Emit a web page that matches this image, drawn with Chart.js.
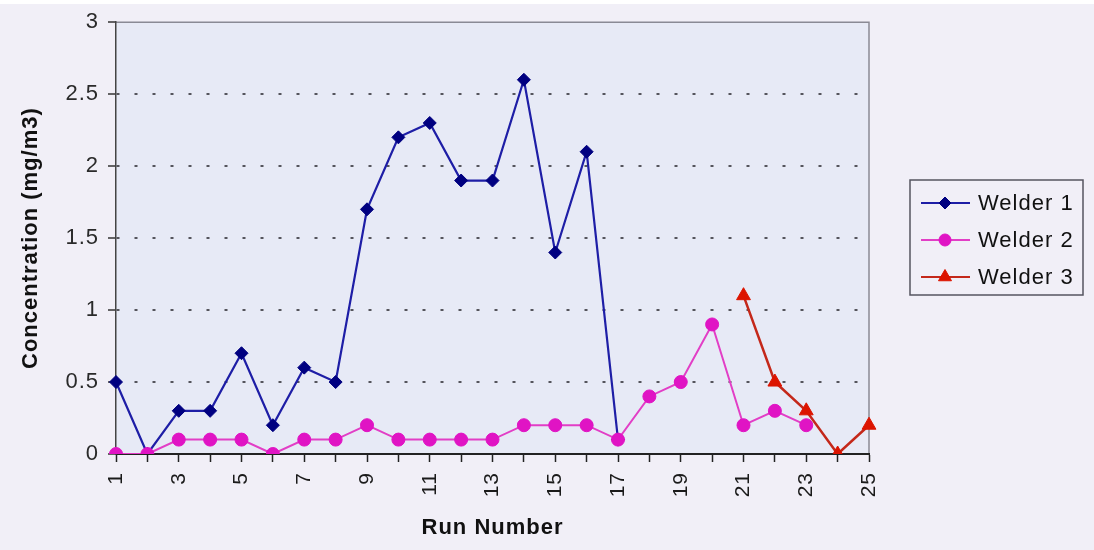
<!DOCTYPE html>
<html>
<head>
<meta charset="utf-8">
<title>Welder exposure by run</title>
<script src="https://cdn.jsdelivr.net/npm/chart.js@4.4.1/dist/chart.umd.min.js"></script>
<style>
  html, body { margin: 0; padding: 0; background: #f1eff7; }
  #wrap { width: 1094px; height: 550px; position: relative; }
  canvas { display: block; }
</style>
</head>
<body>
<div id="wrap"><canvas id="chart" width="1094" height="550"></canvas></div>
<script>
// Run numbers along the x axis
const runs = ['1','2','3','4','5','6','7','8','9','10','11','12','13','14','15','16','17','18','19','20','21','22','23','24','25'];

// Fume concentration (mg/m3) measured for each welder per run
const welder1 = [0.5, 0, 0.3, 0.3, 0.7, 0.2, 0.6, 0.5, 1.7, 2.2, 2.3, 1.9, 1.9, 2.6, 1.4, 2.1, 0.1, null, null, null, null, null, null, null, null];
const welder2 = [0, 0, 0.1, 0.1, 0.1, 0, 0.1, 0.1, 0.2, 0.1, 0.1, 0.1, 0.1, 0.2, 0.2, 0.2, 0.1, 0.4, 0.5, 0.9, 0.2, 0.3, 0.2, null, null];
const welder3 = [null, null, null, null, null, null, null, null, null, null, null, null, null, null, null, null, null, null, null, null, 1.1, 0.5, 0.3, 0, 0.2];

// Y axis ticks
const yTicks = [0, 0.5, 1, 1.5, 2, 2.5, 3];

const FONT = '"Liberation Sans", Arial, Helvetica, sans-serif';
const SPACING = '1px';

// Page background, plot panel and its top/right frame
const panelPlugin = {
  id: 'panel',
  beforeUpdate(chart) { chart.ctx.letterSpacing = SPACING; },
  beforeDraw(chart) {
    const ctx = chart.ctx;
    const a = chart.chartArea;
    ctx.save();
    ctx.fillStyle = '#f1eff7';
    ctx.fillRect(0, 0, chart.width, chart.height);
    ctx.fillStyle = '#ffffff';
    ctx.fillRect(0, 0, chart.width, 4);
    ctx.fillStyle = '#e7eaf6';
    ctx.fillRect(a.left, a.top, a.right - a.left, a.bottom - a.top);
    ctx.strokeStyle = '#8a8a95';
    ctx.lineWidth = 1.5;
    ctx.beginPath();
    ctx.moveTo(a.left, a.top);
    ctx.lineTo(a.right, a.top);
    ctx.lineTo(a.right, a.bottom);
    ctx.stroke();
    ctx.restore();
    ctx.letterSpacing = SPACING;
  }
};

// Boxed legend with line-and-marker keys
const keyPlugin = {
  id: 'keyBox',
  afterDraw(chart) {
    const ctx = chart.ctx;
    const box = { x: 910, y: 180, w: 173, h: 115 };
    ctx.save();
    ctx.strokeStyle = '#555560';
    ctx.lineWidth = 1.5;
    ctx.strokeRect(box.x, box.y, box.w, box.h);
    chart.data.datasets.forEach((ds, i) => {
      const y = box.y + 23 + i * 37;
      ctx.strokeStyle = ds.borderColor;
      ctx.lineWidth = 2;
      ctx.beginPath();
      ctx.moveTo(box.x + 11, y);
      ctx.lineTo(box.x + 60, y);
      ctx.stroke();
      ctx.fillStyle = ds.pointBackgroundColor;
      ctx.strokeStyle = ds.pointBorderColor;
      ctx.lineWidth = 1;
      Chart.helpers.drawPoint(ctx, { pointStyle: ds.pointStyle, radius: ds.pointRadius - 0.5, rotation: 0, borderWidth: 1 }, box.x + 35, y);
      ctx.fillStyle = '#111';
      ctx.font = '22px ' + FONT;
      ctx.letterSpacing = SPACING;
      ctx.textBaseline = 'middle';
      ctx.textAlign = 'left';
      ctx.fillText(ds.label, box.x + 68, y + 1);
    });
    ctx.restore();
  }
};

new Chart(document.getElementById('chart'), {
  type: 'line',
  data: {
    labels: runs,
    datasets: [
      {
        label: 'Welder 1', data: welder1, order: 2,
        borderColor: '#1e1ea6', borderWidth: 2.2,
        pointStyle: 'rectRot', pointRadius: 6.5,
        pointBackgroundColor: '#000080', pointBorderColor: '#000080', pointBorderWidth: 1
      },
      {
        label: 'Welder 2', data: welder2, order: 1,
        borderColor: '#e23ec6', borderWidth: 2,
        pointStyle: 'circle', pointRadius: 6.5,
        pointBackgroundColor: '#e014c4', pointBorderColor: '#e014c4', pointBorderWidth: 1
      },
      {
        label: 'Welder 3', data: welder3, order: 0,
        borderColor: '#c4281a', borderWidth: 2.5,
        pointStyle: 'triangle', pointRadius: 8,
        pointBackgroundColor: '#dc1400', pointBorderColor: '#dc1400', pointBorderWidth: 1
      }
    ]
  },
  options: {
    responsive: false,
    animation: false,
    spanGaps: false,
    layout: { padding: { top: 20, right: 225, left: 0, bottom: 0 } },
    plugins: {
      legend: { display: false },
      tooltip: { enabled: false }
    },
    elements: { line: { tension: 0 } },
    scales: {
      x: {
        type: 'category',
        offset: false,
        grid: { drawOnChartArea: false, drawTicks: true, tickLength: 8, tickColor: '#222', tickWidth: 1.5 },
        border: { color: '#222', width: 2 },
        ticks: {
          autoSkip: false, maxRotation: 90, minRotation: 90, padding: 10,
          color: '#1a1a1a', font: { family: FONT, size: 21 },
          callback: (v, i) => (i % 2 === 0 ? runs[i] : '')
        },
        title: {
          display: true, text: 'Run Number', color: '#111',
          font: { family: FONT, size: 22, weight: 'bold' }, padding: { top: 9, bottom: 9 }
        },
        afterFit: (s) => { s.height = 96; }
      },
      y: {
        min: 0, max: 3,
        afterBuildTicks: (s) => { s.ticks = yTicks.map(v => ({ value: v })); },
        grid: {
          color: (c) => (c.tick && (c.tick.value === 0 || c.tick.value === 3) ? 'rgba(0,0,0,0)' : '#55555c'),
          lineWidth: 2, tickLength: 8, tickColor: '#333', tickWidth: 1.5
        },
        border: { color: '#444', width: 1.5, dash: [3, 15] },
        ticks: {
          padding: 9, color: '#2a2a2a', font: { family: FONT, size: 22 },
          callback: (v) => String(v)
        },
        title: {
          display: true, text: 'Concentration (mg/m3)', color: '#111',
          font: { family: FONT, size: 22, weight: 'bold' }, padding: { top: 18, bottom: 18 }
        },
        afterFit: (s) => { s.width = 116; }
      }
    }
  },
  plugins: [panelPlugin, keyPlugin]
});
</script>
</body>
</html>
